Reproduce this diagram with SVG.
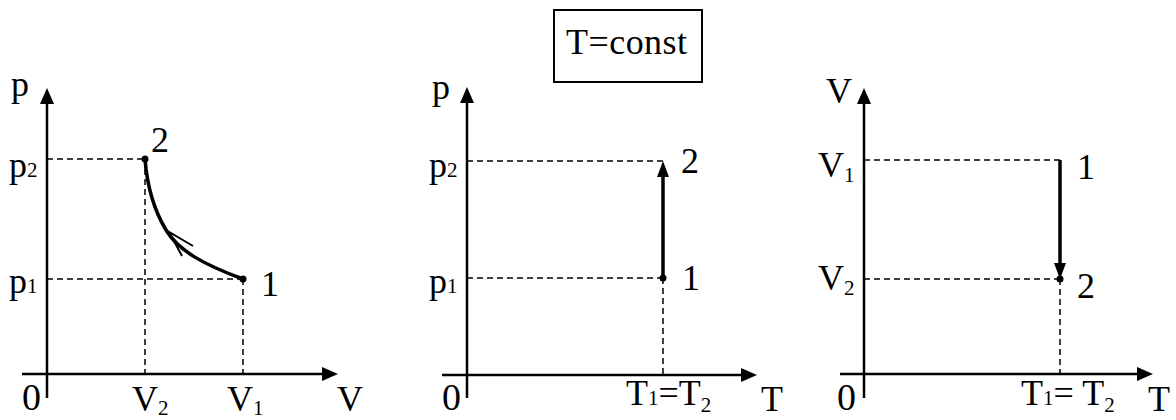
<svg xmlns="http://www.w3.org/2000/svg" width="1176" height="420" viewBox="0 0 1176 420">
<style>
text{font-family:"Liberation Serif","DejaVu Serif","Times New Roman",serif;fill:#000}
.l{font-size:36px}
.s{font-size:21px}
.z{font-size:38px}
.ax{stroke:#000;stroke-width:2.5;fill:none}
.d{stroke:#000;stroke-width:1.5;stroke-dasharray:6 4;fill:none}
.pr{stroke:#000;stroke-width:3.5;fill:none}
.ah{fill:#000}
</style>
<rect width="1176" height="420" fill="#fff"/>
<g id="title">
<rect x="554" y="10" width="148" height="72" fill="#fff" stroke="#000" stroke-width="2"/>
<text x="566" y="54" font-family="Liberation Serif, DejaVu Serif, serif" font-size="36" textLength="121">T=const</text>
</g>
<g id="panel-pV" font-family="Liberation Serif, DejaVu Serif, serif">
<g id="pV-axes">
<line class="ax" x1="47" y1="100" x2="47" y2="398"/>
<polygon class="ah" points="47,88 40,104 54,104"/>
<line class="ax" x1="22" y1="374" x2="325" y2="374"/>
<polygon class="ah" points="338,374 322,367 322,381"/>
</g>
<g id="pV-guides">
<line class="d" x1="47" y1="159" x2="145" y2="159"/>
<line class="d" x1="47" y1="279" x2="243" y2="279"/>
<line class="d" x1="145" y1="159" x2="145" y2="374"/>
<line class="d" x1="243" y1="279" x2="243" y2="374"/>
</g>
<g id="pV-process">
<path class="pr" d="M243,279 C202,264 178,250 166,230 C154,210 147,185 145,159" stroke-width="3"/>
<path d="M193,246 L169,232 L182,256" fill="none" stroke="#000" stroke-width="2"/>
<circle cx="145" cy="159" r="3.5"/>
<circle cx="243" cy="279" r="3.5"/>
</g>
<g id="pV-labels">
<text class="l" x="11" y="96">p</text>
<text class="l" x="9" y="177">p<tspan class="s">2</tspan></text>
<text class="l" x="9" y="293">p<tspan class="s">1</tspan></text>
<text class="l" x="151" y="152">2</text>
<text class="l" x="261" y="296">1</text>
<text class="z" x="22" y="410">0</text>
<text class="l" x="132" y="411">V<tspan class="s" dy="4">2</tspan></text>
<text class="l" x="227" y="411">V<tspan class="s" dy="4">1</tspan></text>
<text class="l" x="337" y="411">V</text>
</g>
</g>
<g id="panel-pT" font-family="Liberation Serif, DejaVu Serif, serif">
<g id="pT-axes">
<line class="ax" x1="467" y1="100" x2="467" y2="398"/>
<polygon class="ah" points="467,87 460,103 474,103"/>
<line class="ax" x1="442" y1="375" x2="745" y2="375"/>
<polygon class="ah" points="757,375 741,368 741,382"/>
</g>
<g id="pT-guides">
<line class="d" x1="467" y1="161" x2="663" y2="161"/>
<line class="d" x1="467" y1="278" x2="663" y2="278"/>
<line class="d" x1="663" y1="278" x2="663" y2="375"/>
</g>
<g id="pT-process">
<line class="pr" x1="663" y1="278" x2="663" y2="172"/>
<polygon class="ah" points="663,161 657,177 669,177"/>
<circle cx="663" cy="278" r="3.5"/>
</g>
<g id="pT-labels">
<text class="l" x="432" y="99">p</text>
<text class="l" x="429" y="177">p<tspan class="s">2</tspan></text>
<text class="l" x="429" y="293">p<tspan class="s">1</tspan></text>
<text class="l" x="681" y="173">2</text>
<text class="l" x="682" y="290">1</text>
<text class="z" x="442" y="410">0</text>
<text class="l" x="626" y="405">T<tspan class="s">1</tspan>=T<tspan class="s" dy="7">2</tspan></text>
<text class="l" x="761" y="411">T</text>
</g>
</g>
<g id="panel-VT" font-family="Liberation Serif, DejaVu Serif, serif">
<g id="VT-axes">
<line class="ax" x1="864" y1="100" x2="864" y2="398"/>
<polygon class="ah" points="864,88 857,104 871,104"/>
<line class="ax" x1="840" y1="374" x2="1141" y2="374"/>
<polygon class="ah" points="1153,374 1137,367 1137,381"/>
</g>
<g id="VT-guides">
<line class="d" x1="864" y1="160" x2="1060" y2="160"/>
<line class="d" x1="864" y1="279" x2="1060" y2="279"/>
<line class="d" x1="1060" y1="279" x2="1060" y2="374"/>
</g>
<g id="VT-process">
<line class="pr" x1="1060" y1="160" x2="1060" y2="268"/>
<polygon class="ah" points="1060,279 1054,263 1066,263"/>
<circle cx="1060" cy="279" r="3.5"/>
</g>
<g id="VT-labels">
<text class="l" x="826" y="103">V</text>
<text class="l" x="818" y="177">V<tspan class="s" dy="5">1</tspan></text>
<text class="l" x="818" y="290">V<tspan class="s" dy="5">2</tspan></text>
<text class="l" x="1077" y="179">1</text>
<text class="l" x="1077" y="298">2</text>
<text class="z" x="837" y="410">0</text>
<text class="l" x="1021" y="405">T<tspan class="s">1</tspan>= T<tspan class="s" dy="7">2</tspan></text>
<text class="l" x="1148" y="411">T</text>
</g>
</g>
</svg>
